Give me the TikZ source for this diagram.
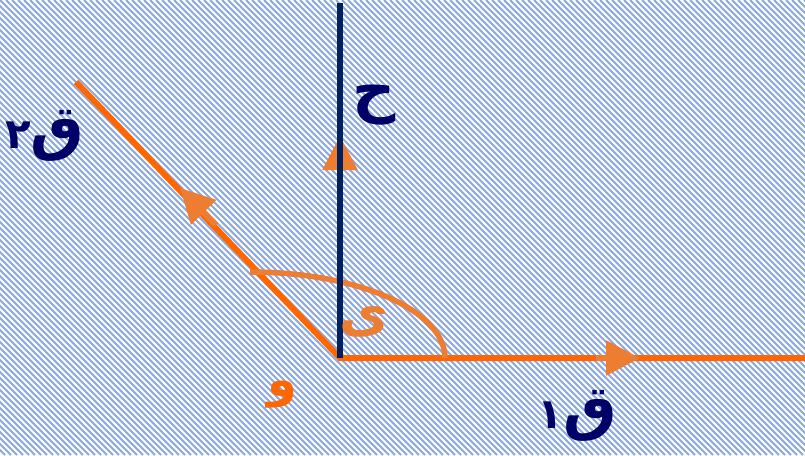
\documentclass[tikz,border=0pt]{standalone}
\usepackage{fontspec}
\newfontfamily\arabicfont[Script=Arabic]{DejaVu Sans}
\TeXXeTstate=1
\usetikzlibrary{arrows.meta}
\definecolor{navyline}{RGB}{0,32,96}
\definecolor{txtnavy}{RGB}{0,0,102}
\definecolor{orA}{RGB}{255,102,0}
\definecolor{orB}{RGB}{237,125,49}
\definecolor{hatchc}{RGB}{140,168,225}
\tikzset{
  rayline/.style={orA, line width=6pt},
  normalline/.style={navyline, line width=6.5pt},
  dirarrow/.style={orB, line width=6pt, -{Triangle[length=34pt,width=34pt]}},
  anglearc/.style={orB, line width=5.5pt},
  lbl/.style={inner sep=0pt, font=\arabicfont\bfseries},
}
\begin{document}
\begin{tikzpicture}[x=1pt,y=-1pt]
\useasboundingbox (0,0) rectangle (805,455);
\fill[white] (0,0) rectangle (805,455);
\begin{scope}
  \clip (0,0) rectangle (805,455);
  \foreach \i in {-80,...,135}
    \draw[hatchc, line width=1.9pt] (\i*6,0) -- (\i*6+455,455);
\end{scope}
% points
\coordinate (O) at (340,358);
\coordinate (E) at (805,358);
\coordinate (A) at (76,82);
\coordinate (T) at (340,3);
\coordinate (arcS) at (250,272);
% rays
\draw[rayline] (A) -- (O) -- (E);
\draw[anglearc] (arcS) arc[start angle=-90, end angle=0, x radius=195, y radius=86];
% direction arrows
\coordinate (a1s) at (596,358); \coordinate (a1e) at (640,358);
\coordinate (a2s) at (340,190); \coordinate (a2e) at (340,136);
\coordinate (a3s) at (216,225); \coordinate (a3e) at (180,188);
\draw[dirarrow] (a1s) -- (a1e);
\draw[dirarrow] (a2s) -- (a2e);
\draw[dirarrow] (a3s) -- (a3e);
% normal
\draw[normalline] (O) -- (T);
% labels
\node[lbl, txtnavy] (h) at (374,105) {\fontsize{60}{64}\selectfont\beginR ح\endR};
\node[lbl, txtnavy] (q2) at (45,136) {\fontsize{60}{64}\selectfont\beginR ق{\fontsize{42}{44}\selectfont ٢}\endR};
\node[lbl, txtnavy] (q1) at (577,416) {\fontsize{60}{64}\selectfont\beginR ق{\fontsize{42}{44}\selectfont ١}\endR};
\node[lbl, orA] (w) at (282,395) {\fontsize{48}{52}\selectfont\beginR و\endR};
\node[lbl, orB] (y) at (364,322) {\fontsize{54}{58}\selectfont\beginR ى\endR};
\end{tikzpicture}
\end{document}
